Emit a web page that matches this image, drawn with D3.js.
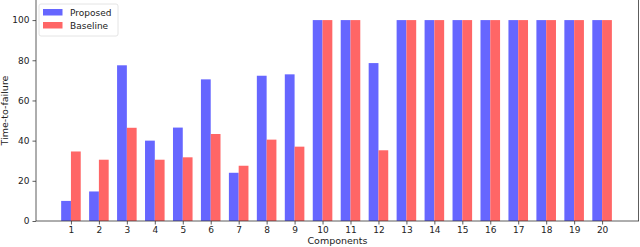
<!DOCTYPE html>
<html>
<head>
<meta charset="utf-8">
<script src="https://cdn.jsdelivr.net/npm/d3@7"></script>
<style>
  body { margin: 0; background: #fff; }
  svg { display: block; font-family: "DejaVu Sans", sans-serif; }
</style>
</head>
<body>
<div id="chart"></div>
<script>
// Data
const components = d3.range(1, 21);
const proposed = [10, 14.7, 77.5, 40, 46.5, 70.5, 24, 72.3, 73, 100, 100, 78.6, 100, 100, 100, 100, 100, 100, 100, 100];
const baseline = [34.6, 30.5, 46.4, 30.5, 31.7, 43.3, 27.5, 40.5, 37, 100, 100, 35.2, 100, 100, 100, 100, 100, 100, 100, 100];
const yTicks = [0, 20, 40, 60, 80, 100];
const seriesNames = ["Proposed", "Baseline"];

// Config
const width = 640, height = 247;
const margin = { top: 0, right: 1, bottom: 26, left: 36 };
const barWidth = 0.35;
const colors = ["#6666ff", "#ff6666"];

const svg = d3.select("#chart")
    .append("svg")
    .attr("width", width)
    .attr("height", height);

const x = d3.scaleLinear()
    .domain([-0.25, 21.32])
    .range([margin.left, width - margin.right]);

const y = d3.scaleLinear()
    .domain([0, 110])
    .range([height - margin.bottom, margin.top]);

// Bars
const series = [proposed, baseline];
series.forEach((values, s) => {
    const offset = s === 0 ? -barWidth : 0;
    svg.append("g")
        .selectAll("rect")
        .data(values)
        .join("rect")
        .attr("x", (d, i) => x(components[i] + offset))
        .attr("width", x(barWidth) - x(0))
        .attr("y", d => y(d))
        .attr("height", d => y(0) - y(d))
        .attr("fill", colors[s]);
});

// Axes
const xAxis = svg.append("g")
    .attr("transform", `translate(0,${y(0)})`)
    .call(d3.axisBottom(x).tickValues(components).tickFormat(d3.format("d")).tickSize(3.5).tickPadding(2));

const yAxis = svg.append("g")
    .attr("transform", `translate(${margin.left},0)`)
    .call(d3.axisLeft(y).tickValues(yTicks).tickSize(3.5).tickPadding(3));

[xAxis, yAxis].forEach(g => {
    g.select(".domain").remove();
    g.selectAll("text")
        .style("font-family", "'DejaVu Sans', sans-serif")
        .style("font-size", "9px")
        .attr("fill", "#222");
    g.selectAll("line").attr("stroke", "#333").attr("stroke-width", 0.8);
});

// Spines
const spine = svg.append("g").attr("stroke", "#333").attr("stroke-width", 0.8).attr("fill", "none");
spine.append("line").attr("x1", margin.left).attr("x2", margin.left).attr("y1", y.range()[1]).attr("y2", y(0));
spine.append("line").attr("x1", margin.left).attr("x2", x.range()[1]).attr("y1", y(0)).attr("y2", y(0));
spine.append("line").attr("x1", x.range()[1] - 0.5).attr("x2", x.range()[1] - 0.5).attr("y1", y.range()[1]).attr("y2", y(0));

// Axis labels
svg.append("text")
    .attr("x", (x.range()[0] + x.range()[1]) / 2)
    .attr("y", 244)
    .attr("text-anchor", "middle")
    .style("font-size", "9.5px")
    .attr("fill", "#222")
    .text("Components");

svg.append("text")
    .attr("transform", `translate(8,${y(55)}) rotate(-90)`)
    .attr("text-anchor", "middle")
    .style("font-size", "9.5px")
    .attr("fill", "#222")
    .text("Time-to-failure");

// Legend
const legend = svg.append("g").attr("transform", "translate(39,4)");
legend.append("rect")
    .attr("width", 79).attr("height", 32).attr("rx", 2)
    .attr("fill", "#fff").attr("fill-opacity", 0.8)
    .attr("stroke", "#ddd").attr("stroke-width", 0.8);

seriesNames.forEach((name, i) => {
    const row = legend.append("g").attr("transform", `translate(4,${5 + i * 13})`);
    row.append("rect").attr("width", 19.5).attr("height", 6.5).attr("fill", colors[i]);
    row.append("text")
        .attr("x", 27).attr("y", 7)
        .style("font-size", "9px")
        .attr("fill", "#222")
        .text(name);
});
</script>
</body>
</html>
